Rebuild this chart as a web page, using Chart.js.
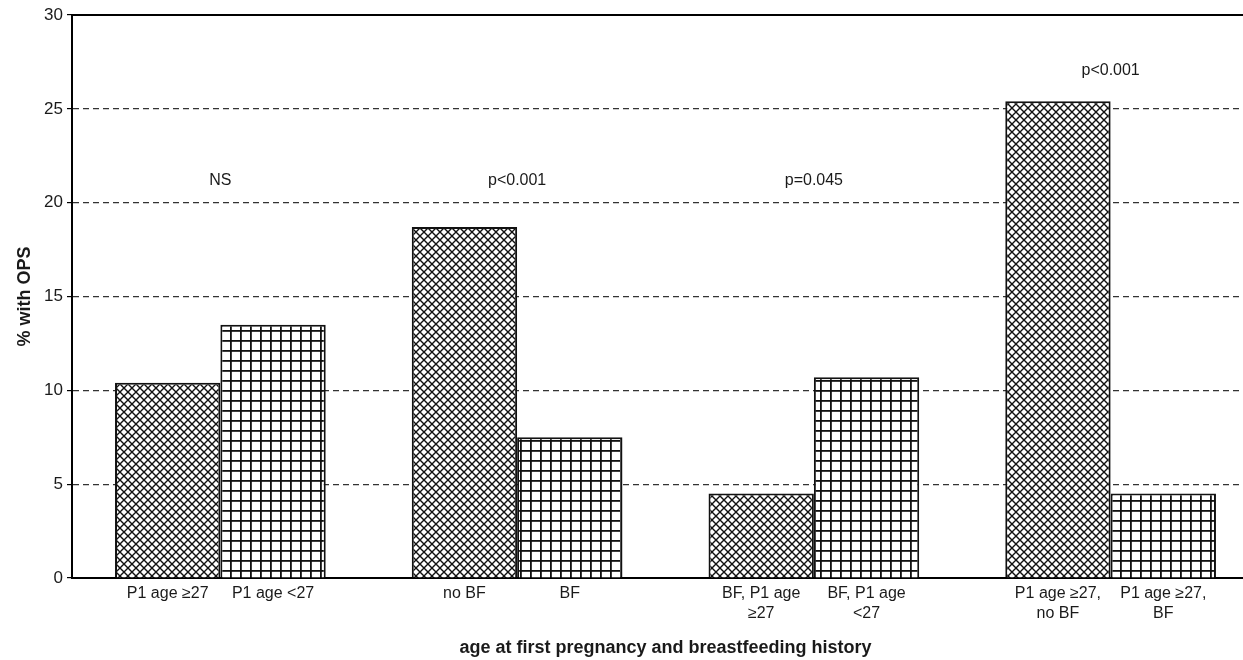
<!DOCTYPE html>
<html>
<head>
<meta charset="utf-8">
<script src="https://cdn.jsdelivr.net/npm/chart.js@4/dist/chart.umd.min.js"></script>
<style>
  html, body { margin: 0; padding: 0; background: #fff; overflow: hidden; }
  #wrap { width: 1259px; height: 660px; position: relative; }
</style>
</head>
<body>
<div id="wrap"><canvas id="opsChart"></canvas></div>
<script>
// data
const groups = ['age', 'BF', 'BF x age', 'age + BF'];
const firstBarLabels = [['P1 age \u226527'], ['no BF'], ['BF, P1 age', '\u226527'], ['P1 age \u226527,', 'no BF']];
const secondBarLabels = [['P1 age <27'], ['BF'], ['BF, P1 age', '<27'], ['P1 age \u226527,', 'BF']];
const firstBarValues = [10.4, 18.7, 4.5, 25.4];
const secondBarValues = [13.5, 7.5, 10.7, 4.5];
const pValues = ['NS', 'p<0.001', 'p=0.045', 'p<0.001'];
const yTicks = [0, 5, 10, 15, 20, 25, 30];

const FONT = "'Liberation Sans', Arial, sans-serif";
const INK = '#1a1a1a';

// hatch fills
function crossHatch() {
  const c = document.createElement('canvas');
  c.width = 8; c.height = 8;
  const g = c.getContext('2d');
  g.fillStyle = '#fff'; g.fillRect(0, 0, 8, 8);
  g.strokeStyle = '#111'; g.lineWidth = 1.4;
  g.beginPath();
  g.moveTo(-1, -1); g.lineTo(9, 9);
  g.moveTo(-1, 9); g.lineTo(9, -1);
  g.stroke();
  return g.createPattern(c, 'repeat');
}
function squareGrid() {
  const c = document.createElement('canvas');
  c.width = 10; c.height = 10;
  const g = c.getContext('2d');
  g.fillStyle = '#fff'; g.fillRect(0, 0, 10, 10);
  g.fillStyle = '#111';
  g.fillRect(0, 0, 1.8, 10);
  g.fillRect(0, 0, 10, 1.8);
  return g.createPattern(c, 'repeat');
}

const annotate = {
  id: 'annotate',
  afterDraw(chart) {
    const ctx = chart.ctx;
    const area = chart.chartArea;
    const y = chart.scales.y;
    ctx.save();
    // top frame line
    ctx.strokeStyle = '#000';
    ctx.lineWidth = 2;
    ctx.beginPath();
    ctx.moveTo(area.left, area.top);
    ctx.lineTo(area.right, area.top);
    ctx.stroke();

    ctx.fillStyle = INK;
    ctx.textAlign = 'center';
    ctx.textBaseline = 'middle';
    ctx.font = '16px ' + FONT;
    const m0 = chart.getDatasetMeta(0).data;
    const m1 = chart.getDatasetMeta(1).data;
    m0.forEach((bar, i) => {
      firstBarLabels[i].forEach((t, k) => ctx.fillText(t, bar.x, area.bottom + 16 + k * 20));
    });
    m1.forEach((bar, i) => {
      secondBarLabels[i].forEach((t, k) => ctx.fillText(t, bar.x, area.bottom + 16 + k * 20));
    });

    // p-values above each pair
    pValues.forEach((t, i) => {
      const cx = (m0[i].x + m1[i].x) / 2;
      const py = i === 3 ? y.getPixelForValue(27.05) : y.getPixelForValue(21.15);
      ctx.fillText(t, cx, py);
    });

    // x axis title
    ctx.font = 'bold 18px ' + FONT;
    ctx.fillText('age at first pregnancy and breastfeeding history', (area.left + area.right) / 2, 648);
    ctx.restore();
  }
};

const ctx = document.getElementById('opsChart').getContext('2d');
const opsChart = new Chart(ctx, {
  type: 'bar',
  data: {
    labels: groups,
    datasets: [
      {
        data: firstBarValues,
        backgroundColor: crossHatch(),
        borderColor: '#111',
        borderWidth: 2,
        borderSkipped: 'bottom'
      },
      {
        data: secondBarValues,
        backgroundColor: squareGrid(),
        borderColor: '#111',
        borderWidth: 2,
        borderSkipped: 'bottom'
      }
    ]
  },
  options: {
    responsive: true,
    maintainAspectRatio: false,
    animation: false,
    events: [],
    layout: { padding: { top: 15, right: 0, bottom: 0, left: 0 } },
    datasets: { bar: { categoryPercentage: 0.71, barPercentage: 1.0 } },
    plugins: {
      legend: { display: false },
      tooltip: { enabled: false }
    },
    scales: {
      x: {
        grid: { display: false },
        ticks: { display: false },
        border: { color: '#000', width: 2 },
        afterFit(scale) { scale.height = 82; }
      },
      y: {
        min: 0,
        max: 30,
        afterBuildTicks(scale) { scale.ticks = yTicks.map(v => ({ value: v })); },
        afterFit(scale) { scale.width = 72; },
        ticks: {
          color: INK,
          font: { family: FONT, size: 17 },
          padding: 4
        },
        grid: {
          color: c => (c.tick && (c.tick.value === 0 || c.tick.value === 30)) ? 'rgba(0,0,0,0)' : '#333',
          lineWidth: 1.2,
          drawTicks: true,
          tickLength: 5,
          tickColor: '#000'
        },
        border: { color: '#000', width: 2, dash: [6, 4] },
        title: {
          display: true,
          text: '% with OPS',
          color: INK,
          font: { family: FONT, size: 18, weight: 'bold' },
          padding: { top: 14, bottom: 6 }
        }
      }
    }
  },
  plugins: [annotate]
});
</script>
</body>
</html>
